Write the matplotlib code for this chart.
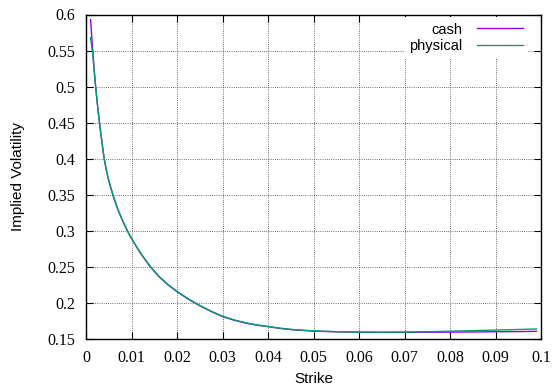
import matplotlib
matplotlib.use("Agg")
import matplotlib.pyplot as plt

# ── data ──────────────────────────────────────────────────────────────────────
strike = [0.001, 0.0015, 0.002, 0.0025, 0.003, 0.0035, 0.004, 0.0045, 0.005,
          0.006, 0.007, 0.008, 0.009, 0.010, 0.012, 0.014, 0.016, 0.018,
          0.020, 0.0225, 0.025, 0.0275, 0.030, 0.0325, 0.035, 0.0375, 0.040,
          0.0425, 0.045, 0.0475, 0.050, 0.055, 0.060, 0.065, 0.070, 0.075,
          0.080, 0.085, 0.090, 0.095, 0.099]

iv_cash = [0.593, 0.548, 0.508, 0.476, 0.448, 0.423, 0.400, 0.3835, 0.370,
           0.348, 0.330, 0.315, 0.3015, 0.2895, 0.269, 0.2515, 0.237, 0.2255,
           0.216, 0.2055, 0.1965, 0.1885, 0.1815, 0.1765, 0.1726, 0.1697, 0.1675,
           0.1652, 0.1635, 0.1623, 0.1614, 0.1603, 0.1598, 0.1596, 0.1597, 0.1598,
           0.1600, 0.1602, 0.1605, 0.1607, 0.1610]

iv_physical = [0.568, 0.544, 0.507, 0.476, 0.448, 0.423, 0.400, 0.3835, 0.370,
               0.348, 0.330, 0.315, 0.3015, 0.2895, 0.2695, 0.252, 0.2375, 0.226,
               0.2165, 0.206, 0.197, 0.189, 0.182, 0.177, 0.173, 0.170, 0.1678,
               0.1655, 0.1638, 0.1626, 0.1617, 0.1606, 0.1600, 0.1599, 0.1600, 0.1605,
               0.1612, 0.1620, 0.1628, 0.1636, 0.1643]

xticks = [0, 0.01, 0.02, 0.03, 0.04, 0.05, 0.06, 0.07, 0.08, 0.09, 0.1]
xticklabels = ["0", "0.01", "0.02", "0.03", "0.04", "0.05", "0.06", "0.07", "0.08", "0.09", "0.1"]
yticks = [0.15, 0.2, 0.25, 0.3, 0.35, 0.4, 0.45, 0.5, 0.55, 0.6]
yticklabels = ["0.15", "0.2", "0.25", "0.3", "0.35", "0.4", "0.45", "0.5", "0.55", "0.6"]

SANS = "Liberation Sans"
SERIF = "Liberation Serif"

fig = plt.figure(figsize=(5.54, 3.89), dpi=100)
ax = fig.add_axes([86 / 554, 1 - 339.3 / 389, (541 - 86) / 554, (339.3 - 14.5) / 389])

ax.plot(strike, iv_cash, color="#9400D3", lw=1.0, label="cash", zorder=3)
ax.plot(strike, iv_physical, color="#009E73", lw=1.0, label="physical", zorder=4)

ax.set_xlim(0, 0.1)
ax.set_ylim(0.15, 0.6)
ax.set_xticks(xticks)
ax.set_xticklabels(xticklabels, family=SERIF, fontsize=11.5)
ax.set_yticks(yticks)
ax.set_yticklabels(yticklabels, family=SERIF, fontsize=11.5)
ax.tick_params(direction="in", length=5, width=0.8, top=True, right=True, pad=8)

ax.grid(True, color="0.25", lw=0.6, linestyle=(0, (1, 1.6)))
ax.set_axisbelow(True)
for s in ax.spines.values():
    s.set_linewidth(1.0)
    s.set_zorder(5)

ax.set_xlabel("Strike", family=SANS, fontsize=11, labelpad=4)
ax.set_ylabel("Implied Volatility", family=SANS, fontsize=11, labelpad=16)

leg = ax.legend(loc="upper right", bbox_to_anchor=(0.991, 1.018),
                markerfirst=False, frameon=True, fancybox=False,
                prop={"family": SANS, "size": 10.5}, handlelength=3.15,
                handletextpad=1.0, labelspacing=0.15, borderpad=0.35,
                borderaxespad=0.6)
leg.get_frame().set_facecolor("white")
leg.get_frame().set_edgecolor("none")
leg.get_frame().set_alpha(1.0)
leg.set_zorder(6)

fig.savefig("out.png", dpi=100)
